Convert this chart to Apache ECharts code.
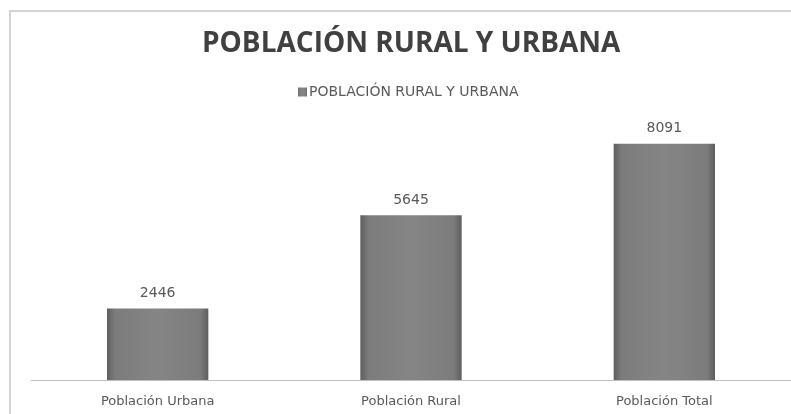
<!DOCTYPE html>
<html>
<head>
<meta charset="utf-8">
<script src="https://cdn.jsdelivr.net/npm/echarts@6/dist/echarts.min.js"></script>
<style>
  html, body { margin: 0; padding: 0; background: #fff; }
  #chart { width: 791px; height: 414px; }
</style>
</head>
<body>
<div id="chart"></div>
<script>
var chartDom = document.getElementById("chart");
var myChart = echarts.init(chartDom);

// categorias
var categorias = ['Población Urbana', 'Población Rural', 'Población Total'];
// valores de poblacion
var poblacion = [2446, 5645, 8091];
var serieNombre = 'POBLACIÓN RURAL Y URBANA';

var option = {
    backgroundColor: '#ffffff',
    animation: false,
    title: {
        text: 'POBLACIÓN RURAL Y URBANA',
        left: 197,
        top: 25,
        textStyle: {
            fontFamily: 'Open Sans',
            fontWeight: 'bold',
            fontSize: 28,
            color: '#404040'
        }
    },
    legend: {
        top: 80,
        left: 293,
        itemWidth: 9,
        itemHeight: 9,
        itemGap: 2,
        icon: 'rect',
        textStyle: {
            fontFamily: 'DejaVu Sans',
            fontSize: 14,
            color: '#595959',
            padding: [0, 0, 0, -3]
        },
        data: [serieNombre]
    },
    graphic: [{
        type: 'rect',
        shape: { x: 10, y: 11, width: 800, height: 420 },
        style: { fill: 'none', stroke: '#d4d4d4', lineWidth: 2 },
        silent: true
    }],
    grid: {
        left: 31,
        right: -3,
        top: 88,
        bottom: 34
    },
    xAxis: {
        type: 'category',
        data: categorias,
        axisLine: { lineStyle: { color: '#bfbfbf', width: 1 } },
        axisTick: { show: false },
        axisLabel: {
            margin: 15,
            fontFamily: 'DejaVu Sans',
            fontSize: 13,
            color: '#595959'
        }
    },
    yAxis: {
        type: 'value',
        min: 0,
        max: 10000,
        show: false,
        splitLine: { show: false }
    },
    series: [{
        name: serieNombre,
        type: 'bar',
        barWidth: '40%',
        data: poblacion,
        itemStyle: {
            color: new echarts.graphic.LinearGradient(0, 0, 1, 0, [
                { offset: 0, color: '#5e5e5e' },
                { offset: 0.08, color: '#7c7c7c' },
                { offset: 0.5, color: '#858585' },
                { offset: 0.92, color: '#7c7c7c' },
                { offset: 1, color: '#5e5e5e' }
            ])
        },
        label: {
            show: true,
            position: 'top',
            distance: 8,
            fontFamily: 'DejaVu Sans',
            fontSize: 14,
            color: '#595959'
        }
    }]
};

myChart.setOption(option);
window.addEventListener("resize", function() {
    myChart.resize();
});
</script>
</body>
</html>
